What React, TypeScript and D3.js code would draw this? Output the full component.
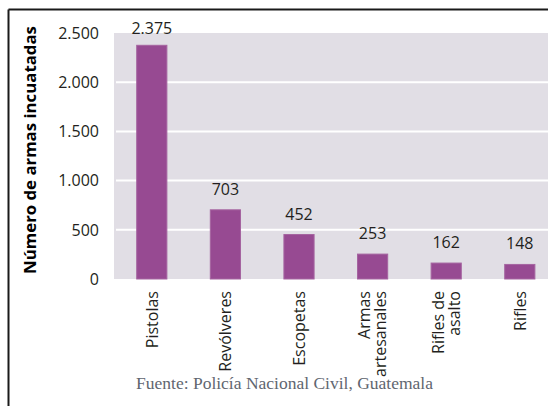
import React from 'react';
import * as d3 from 'd3';

// Datos: armas incautadas por tipo
const categories = ['Pistolas', 'Revólveres', 'Escopetas', 'Armas|artesanales', 'Rifles de|asalto', 'Rifles'];
const values = [2375, 703, 452, 253, 162, 148];
const valueLabels = ['2.375', '703', '452', '253', '162', '148'];
const yTicks = [0, 500, 1000, 1500, 2000, 2500];
const yTickLabels = ['0', '500', '1.000', '1.500', '2.000', '2.500'];

const W = 548;
const H = 406;
const FONT = '"Open Sans", "DejaVu Sans", sans-serif';

export default function App() {
  const margin = { left: 114, top: 33, bottom: 279 };
  const x = d3
    .scaleBand<string>()
    .domain(categories)
    .range([115, 115 + 6 * 73.6])
    .paddingInner(0.59)
    .paddingOuter(0.295);
  const y = d3.scaleLinear().domain([0, 2500]).range([margin.bottom, margin.top]);

  return (
    <svg
      width={W}
      height={H}
      style={{ position: 'absolute', left: 0, top: 0, background: '#fff' }}
      fontFamily={FONT}
    >
      {/* marco */}
      <line x1={8.5} y1={9.5} x2={W} y2={9.5} stroke="#1a1a1a" strokeWidth={2} />
      <line x1={8.5} y1={9.5} x2={8.5} y2={H} stroke="#1a1a1a" strokeWidth={2} />

      {/* fondo del área del gráfico */}
      <rect
        x={margin.left}
        y={y(2500)}
        width={W - margin.left}
        height={y(0) - y(2500)}
        fill="#e1dee5"
      />

      {/* líneas de cuadrícula */}
      {yTicks.slice(1, -1).map((t) => (
        <line key={t} x1={margin.left + 2} x2={W} y1={y(t)} y2={y(t)} stroke="#fff" strokeWidth={2} />
      ))}

      {/* etiquetas del eje Y */}
      {yTicks.map((t, i) => (
        <text
          key={t}
          x={99}
          y={y(t)}
          dy="0.36em"
          textAnchor="end"
          fontSize={16}
          fill="#231f20"
        >
          {yTickLabels[i]}
        </text>
      ))}

      {/* título del eje Y */}
      <text
        transform="translate(30, 150) rotate(-90)"
        dy="0.35em"
        textAnchor="middle"
        fontSize={16.8}
        fontWeight="bold"
        fill="#000"
      >
        Número de armas incuatadas
      </text>

      {/* barras */}
      {categories.map((c, i) => (
        <rect
          key={c}
          x={x(c)}
          y={y(values[i])}
          width={x.bandwidth()}
          height={y(0) - y(values[i])}
          fill="#974a92"
          stroke="#a564a0"
          strokeWidth={1}
        />
      ))}

      {/* valores */}
      {categories.map((c, i) => (
        <text
          key={c}
          x={(x(c) as number) + x.bandwidth() / 2}
          y={Math.max(y(values[i]) - 15, 33.5)}
          textAnchor="middle"
          fontSize={16}
          fill="#231f20"
        >
          {valueLabels[i]}
        </text>
      ))}

      {/* etiquetas del eje X */}
      {categories.map((c) => {
        const lines = c.split('|');
        const cx = (x(c) as number) + x.bandwidth() / 2;
        const lh = 16;
        return (
          <g key={c} transform={`translate(${cx}, 291) rotate(-90)`}>
            {lines.map((l, j) => (
              <text
                key={j}
                x={0}
                y={(j - (lines.length - 1) / 2) * lh}
                dy="0.36em"
                textAnchor="end"
                fontSize={16}
                fill="#231f20"
              >
                {l}
              </text>
            ))}
          </g>
        );
      })}

      {/* fuente */}
      <text
        x={284.5}
        y={389}
        textAnchor="middle"
        fontSize={17.5}
        fontFamily='"Liberation Serif", "DejaVu Serif", serif'
        fill="#5f6670"
      >
        Fuente: Policía Nacional Civil, Guatemala
      </text>
    </svg>
  );
}
